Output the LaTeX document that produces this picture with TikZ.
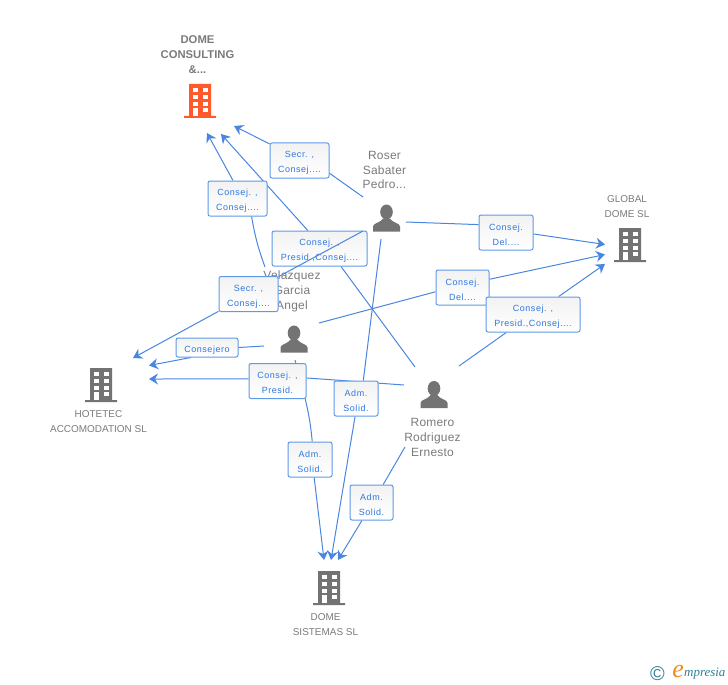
\documentclass[tikz,border=0pt]{standalone}
\usepackage{fontspec}
\usetikzlibrary{arrows.meta}
\setmainfont{Liberation Sans}
\newfontfamily\lblf[LetterSpace=6]{Liberation Sans}
\newfontfamily\namef[LetterSpace=2]{Liberation Sans}
\newfontfamily\logof{Liberation Serif}
\newcommand{\lowerline}{\rule{0pt}{11bp}}
\definecolor{edgeblue}{HTML}{4A86E0}
\definecolor{boxblue}{HTML}{5F9AE8}
\definecolor{txtblue}{HTML}{2F78E0}
\definecolor{greytxt}{HTML}{7A7A7A}
\definecolor{icongrey}{HTML}{737373}
\definecolor{hotorange}{HTML}{FF5A2B}
\definecolor{logoteal}{HTML}{2F7F95}
\definecolor{logoorange}{HTML}{F08A1D}
\pgfdeclarelayer{edges}
\pgfdeclarelayer{top}
\pgfsetlayers{edges,main,top}
\tikzset{
  conn/.style={draw=edgeblue,line width=1bp},
  tip/.style={conn,-{Stealth[length=9bp,width=11bp,inset=3bp]}},
  lbl/.style={draw=boxblue,line width=1bp,rounded corners=2bp,top color=black!5,bottom color=white,
    text=txtblue,font=\lblf\fontsize{9}{15}\selectfont,align=center,inner sep=0pt,
    minimum width=#1,minimum height=35bp},
  lbl/.default=59bp,
  who/.style={text=greytxt,font=\namef\fontsize{12}{15}\selectfont,align=center,inner sep=0pt},
  firm/.style={text=greytxt,font=\fontsize{10}{15}\selectfont,align=center,inner sep=0pt},
  hot/.style={text=greytxt,font=\bfseries\fontsize{11.3}{15}\selectfont,align=center,inner sep=0pt},
  building/.pic={
    \fill[pic actions] (-11,0) rectangle (11,32) (-16,32) rectangle (16,34);
    \foreach \r in {4.3,11,17.7,24}{\fill[white] (-7.3,\r) rectangle (-2.3,\r+4);\fill[white] (2.7,\r) rectangle (7.7,\r+4);}
    \fill[white] (-7.3,24) rectangle (-2.3,32);
  },
  person/.pic={
    \fill[icongrey] (0,7.5) ellipse[x radius=6.3,y radius=7.5];
    \fill[icongrey] (-13.5,27) -- (-13.5,22) .. controls (-13.5,18.5) and (-6,18.5) .. (-3.5,14) -- (3.5,14) .. controls (6,18.5) and (13.5,18.5) .. (13.5,22) -- (13.5,27) -- cycle;
  }
}
\begin{document}
\begin{tikzpicture}[x=1bp,y=-1bp]
\useasboundingbox (0,0) rectangle (728,685);
% icons
\pic[fill=hotorange] at (200,84) {building};
\pic[fill=icongrey] at (101,368) {building};
\pic[fill=icongrey] at (630,228) {building};
\pic[fill=icongrey] at (329,571) {building};
\pic at (386.5,204.5) {person};
\pic at (294,325.5) {person};
\pic at (434,381) {person};
% names
\node[hot] (dc) at (197.5,55) {DOME\\CONSULTING\\\&...};
\node[firm] (gd) at (627,206.5) {GLOBAL\\DOME SL};
\node[firm] (ho) at (98.5,421.5) {HOTETEC\\ACCOMODATION SL};
\node[firm] (ds) at (325.5,624.5) {DOME\\SISTEMAS SL};
\node[who] (ro) at (384.5,170) {Roser\\Sabater\\Pedro...};
\node[who] (ve) at (292,291) {Velazquez\\Garcia\\Angel};
\node[who] (rm) at (432.5,437) {Romero\\Rodriguez\\Ernesto};
% labels
\node[lbl] (n1) at (299.5,160.5) {\lowerline Secr. ,\\Consej....};
\node[lbl] (n2) at (237.5,198.5) {\lowerline Consej. ,\\Consej....};
\node[lbl=95bp] (n3) at (319.5,248.5) {\lowerline Consej. ,\\Presid.,Consej....};
\node[lbl] (n4) at (248.5,294) {\lowerline Secr. ,\\Consej....};
\node[lbl=62bp,minimum height=19bp] (n5) at (207,347.5) {\lowerline Consejero};
\node[lbl=57bp] (n6) at (277.5,381) {\lowerline Consej. ,\\Presid.};
\node[lbl=44bp] (n7) at (356,398.5) {\lowerline Adm.\\Solid.};
\node[lbl=44bp] (n8) at (310,459.5) {\lowerline Adm.\\Solid.};
\node[lbl=43bp] (n9) at (371.5,502.5) {\lowerline Adm.\\Solid.};
\node[lbl=54bp] (n10) at (506,232.5) {\lowerline Consej.\\Del....};
\node[lbl=53bp] (n11) at (462.5,287.5) {\lowerline Consej.\\Del....};
\node[lbl=94bp] (n12) at (533,314.5) {\lowerline Consej. ,\\Presid.,Consej....};
% free ends
\coordinate (s1) at (363,197); \coordinate (t1) at (234,126);
\coordinate (s2) at (265,267); \coordinate (t2) at (207,133);
\coordinate (s3) at (415,367); \coordinate (t3) at (221,134);
\coordinate (s4) at (363,231); \coordinate (t4) at (133,358);
\coordinate (s5) at (264,346); \coordinate (t5) at (149,365.5);
\coordinate (s6) at (404,385); \coordinate (t6) at (149,379);
\coordinate (s7) at (295,360); \coordinate (t7) at (324,560);
\coordinate (s8) at (381,239); \coordinate (t8) at (331,560);
\coordinate (s9) at (405,447); \coordinate (t9) at (338,560);
\coordinate (s10) at (406,222); \coordinate (t10) at (605,244.5);
\coordinate (s11) at (319,323); \coordinate (t11) at (605,254.5);
\coordinate (s12) at (459,366); \coordinate (t12) at (605,264);
\begin{pgfonlayer}{edges}
\draw[conn] (s1) -- (n1.-23); \draw[tip] (n1.151) -- (t1);
\draw[conn] (s2) to[bend left=5] (n2.-52); \draw[tip] (n2.104) -- (t2);
\draw[conn] (s3) -- (n3.-40.5); \draw[tip] (n3.123) -- (t3);
\draw[tip] (n4.210) -- (t4);
\draw[conn] (s5) -- (n5.0); \draw[tip] (n5.212) -- (t5);
\draw[conn] (s6) -- (n6.6); \draw[tip] (n6.176) -- (t6);
\draw[conn] (s7) -- (n6.-33) to[bend left=4] (n8.83); \draw[tip] (n8.-77) -- (t7);
\draw[conn] (s8) -- (n7.68); \draw[tip] (n7.-93) -- (t8);
\draw[conn] (s9) -- (n9.57); \draw[tip] (n9.-118.5) -- (t9);
\draw[conn] (s10) -- (n10.164.5); \draw[tip] (n10.-3) -- (t10);
\draw[conn] (s11) -- (n11.189.6); \draw[tip] (n11.17.8) -- (t11);
\draw[conn] (s12) -- (n12.214); \draw[tip] (n12.35) -- (t12);
\end{pgfonlayer}
\begin{pgfonlayer}{top}
\draw[conn] (s4) -- (n4.30);
\end{pgfonlayer}
% logo
\node[text=logoteal,font=\fontsize{20}{20}\selectfont,inner sep=0pt] (lc) at (657.5,674) {©};
\node[text=logoorange,font=\logof\itshape\fontsize{26}{26}\selectfont,inner sep=0pt] (le) at (678,672) {e};
\node[text=logoteal,font=\logof\itshape\fontsize{13}{13}\selectfont,inner sep=0pt,anchor=west] (lm) at (684,674) {mpresia};
\end{tikzpicture}
\end{document}
